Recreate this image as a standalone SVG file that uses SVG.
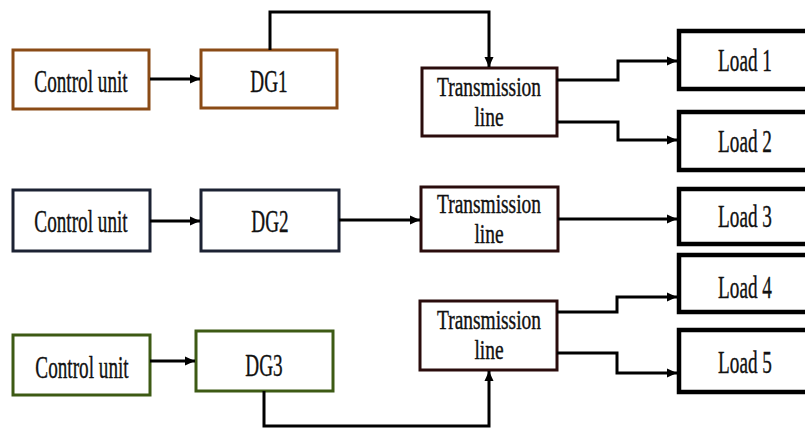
<svg xmlns="http://www.w3.org/2000/svg" width="805" height="428" viewBox="0 0 805 428">
<style>
.box{fill:#fff;stroke-width:3}
.b1{stroke:#8a4b16}
.b2{stroke:#1c2233}
.b3{stroke:#3d5a14}
.tl{stroke:#2a0c0c}
.ld{fill:#fff;stroke:#000;stroke-width:4.5}
.t{font-family:"Liberation Serif","Times New Roman",serif;font-size:32px;fill:#111;text-anchor:middle;stroke:#111;stroke-width:0.4}
.s{font-size:27px}
.c{fill:none;stroke:#000;stroke-width:3}
</style>
<defs>
<marker id="ah" markerUnits="userSpaceOnUse" markerWidth="12" markerHeight="12" viewBox="0 0 12 12" refX="11" refY="6" orient="auto">
<path d="M1,1.5 L11,6 L1,10.5 Z" fill="#000"/>
</marker>
</defs>
<g id="cu1"><rect class="box b1" x="13" y="50" width="136" height="59"/><text class="t" transform="translate(81,92) scale(0.6,1)">Control unit</text></g>
<g id="dg1"><rect class="box b1" x="201" y="50" width="136" height="58"/><text class="t" transform="translate(269,92) scale(0.6,1)">DG1</text></g>
<g id="tl1"><rect class="box tl" x="422" y="68" width="135" height="68"/><text class="t s" transform="translate(489,96) scale(0.72,1)">Transmission</text><text class="t s" transform="translate(489,126) scale(0.72,1)">line</text></g>
<g id="load1"><rect class="ld" x="679" y="31" width="140" height="58"/><text class="t" transform="translate(745,71) scale(0.6,1)">Load 1</text></g>
<g id="load2"><rect class="ld" x="679" y="112" width="140" height="58"/><text class="t" transform="translate(745,152) scale(0.6,1)">Load 2</text></g>
<g id="cu2"><rect class="box b2" x="13" y="190" width="137" height="61"/><text class="t" transform="translate(81,232) scale(0.6,1)">Control unit</text></g>
<g id="dg2"><rect class="box b2" x="201" y="190" width="138" height="61"/><text class="t" transform="translate(270,232) scale(0.6,1)">DG2</text></g>
<g id="tl2"><rect class="box tl" x="421" y="187" width="137" height="64"/><text class="t s" transform="translate(489,213) scale(0.72,1)">Transmission</text><text class="t s" transform="translate(489,243) scale(0.72,1)">line</text></g>
<g id="load3"><rect class="ld" x="679" y="189" width="140" height="55"/><text class="t" transform="translate(745,227) scale(0.6,1)">Load 3</text></g>
<g id="load4"><rect class="ld" x="679" y="255" width="140" height="57"/><text class="t" transform="translate(745,298) scale(0.6,1)">Load 4</text></g>
<g id="load5"><rect class="ld" x="679" y="330" width="140" height="62"/><text class="t" transform="translate(745,373) scale(0.6,1)">Load 5</text></g>
<g id="cu3"><rect class="box b3" x="13" y="335" width="137" height="60"/><text class="t" transform="translate(82,378) scale(0.6,1)">Control unit</text></g>
<g id="dg3"><rect class="box b3" x="196" y="331" width="137" height="60"/><text class="t" transform="translate(264,376) scale(0.6,1)">DG3</text></g>
<g id="tl3"><rect class="box tl" x="420" y="301" width="137" height="69"/><text class="t s" transform="translate(489,329) scale(0.72,1)">Transmission</text><text class="t s" transform="translate(489,359) scale(0.72,1)">line</text></g>
<g id="connectors">
<path class="c" marker-end="url(#ah)" d="M150,79 H200"/>
<path class="c" marker-end="url(#ah)" d="M270,50 V12 H489 V67"/>
<path class="c" marker-end="url(#ah)" d="M557,80 H618 V61 H677"/>
<path class="c" marker-end="url(#ah)" d="M557,122 H618 V140 H677"/>
<path class="c" marker-end="url(#ah)" d="M150,221 H200"/>
<path class="c" marker-end="url(#ah)" d="M339,220 H420"/>
<path class="c" marker-end="url(#ah)" d="M558,219 H677"/>
<path class="c" marker-end="url(#ah)" d="M150,361 H195"/>
<path class="c" marker-end="url(#ah)" d="M264,391 V426 H489 V371"/>
<path class="c" marker-end="url(#ah)" d="M557,312 H617 V297 H677"/>
<path class="c" marker-end="url(#ah)" d="M557,353 H617 V373 H677"/>
</g>
</svg>
